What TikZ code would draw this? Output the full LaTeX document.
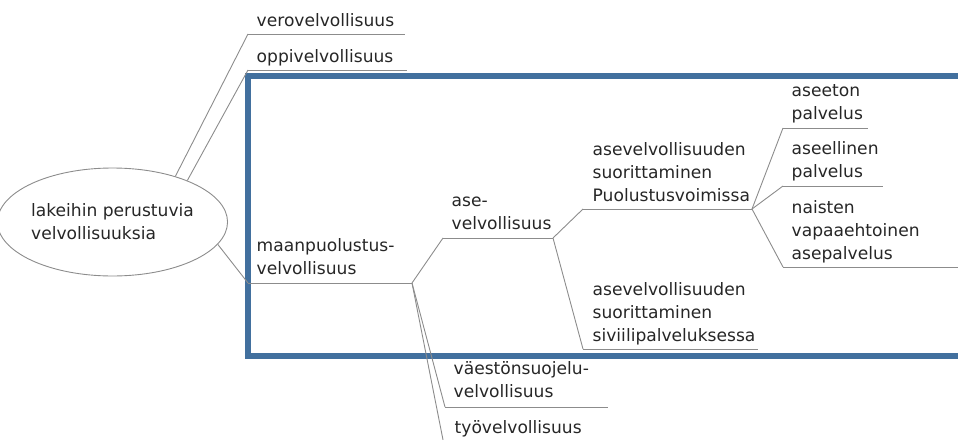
\documentclass[tikz,border=0pt]{standalone}
\usepackage{fontspec}
\setmainfont{DejaVu Sans}
\usetikzlibrary{shapes.geometric}
\definecolor{frameblue}{RGB}{66,112,158}
\definecolor{linegray}{RGB}{140,140,140}
\begin{document}
\begin{tikzpicture}[x=1pt,y=-1pt,
  lbl/.style={anchor=south west, inner sep=0pt, text depth=0pt, align=left,
    font={\fontsize{17.1}{23}\selectfont}, text=black!85},
  conn/.style={draw=linegray, line width=0.9pt},
  uline/.style={draw=linegray, line width=0.9pt}]
\useasboundingbox (0,0) rectangle (958,439);
\clip (0,0) rectangle (958,439);
% blue frame
\draw[frameblue, line width=5.5pt] (975,76) -- (248,76) -- (248,356) -- (975,356);
% root ellipse
\node[ellipse, draw=linegray, line width=0.9pt, minimum width=209pt, minimum height=108pt,
  inner sep=0pt, align=left, font={\fontsize{17.1}{23}\selectfont}, text=black!85]
  (root) at (112.5,222) {lakeihin perustuvia\\velvollisuuksia};
% underline coordinates
\coordinate (veroL) at (248,34);   \coordinate (veroR) at (405,34);
\coordinate (oppiL) at (248,70);   \coordinate (oppiR) at (407,70);
\coordinate (maanL) at (248,283);  \coordinate (maanR) at (412,283);
\coordinate (aseL)  at (443,238);  \coordinate (aseR)  at (553,238);
\coordinate (puoL)  at (583,209);  \coordinate (puoR)  at (752,209);
\coordinate (sivL)  at (583,349);  \coordinate (sivR)  at (758,349);
\coordinate (aseetL) at (783,128); \coordinate (aseetR) at (868,128);
\coordinate (aseelL) at (783,186); \coordinate (aseelR) at (883,186);
\coordinate (naisL) at (783,267);  \coordinate (naisR) at (960,267);
\coordinate (vaeL)  at (445,407);  \coordinate (vaeR)  at (608,407);
\coordinate (tyoL)  at (446,455);  \coordinate (tyoR)  at (600,455);
% underlines
\foreach \n in {vero,oppi,maan,ase,puo,siv,aseet,aseel,nais,vae,tyo}
  \draw[uline] (\n L) -- (\n R);
% labels
\node[lbl] (vero) at ([xshift=8.5pt,yshift=7.5pt]veroL) {verovelvollisuus};
\node[lbl] (oppi) at ([xshift=8.5pt,yshift=7.5pt]oppiL) {oppivelvollisuus};
\node[lbl] (maan) at ([xshift=8.5pt,yshift=8pt]maanL) {maanpuolustus-\\velvollisuus};
\node[lbl] (ase) at ([xshift=8.5pt,yshift=8pt]aseL) {ase-\\velvollisuus};
\node[lbl] (puo) at ([xshift=9.5pt,yshift=7.5pt]puoL) {asevelvollisuuden\\suorittaminen\\Puolustusvoimissa};
\node[lbl] (siv) at ([xshift=9.5pt,yshift=7.5pt]sivL) {asevelvollisuuden\\suorittaminen\\siviilipalveluksessa};
\node[lbl] (aseet) at ([xshift=8.5pt,yshift=8pt]aseetL) {aseeton\\palvelus};
\node[lbl] (aseel) at ([xshift=8.5pt,yshift=8pt]aseelL) {aseellinen\\palvelus};
\node[lbl] (nais) at ([xshift=8.5pt,yshift=7.5pt]naisL) {naisten\\vapaaehtoinen\\asepalvelus};
\node[lbl] (vae) at ([xshift=8.5pt,yshift=9pt]vaeL) {väestönsuojelu-\\velvollisuus};
\node[lbl] (tyo) at ([xshift=8.5pt,yshift=21pt]tyoL) {työvelvollisuus};
% connectors
\draw[conn] (root.36.6) -- (veroL);
\draw[conn] (root.29.6) -- (oppiL);
\draw[conn] (root.-12.4) -- (maanL);
\draw[conn] (maanR) -- (aseL);
\draw[conn] (maanR) -- (vaeL);
\draw[conn] (maanR) -- (tyoL);
\draw[conn] (aseR) -- (puoL);
\draw[conn] (aseR) -- (sivL);
\draw[conn] (puoR) -- (aseetL);
\draw[conn] (puoR) -- (aseelL);
\draw[conn] (puoR) -- (naisL);
\end{tikzpicture}
\end{document}
